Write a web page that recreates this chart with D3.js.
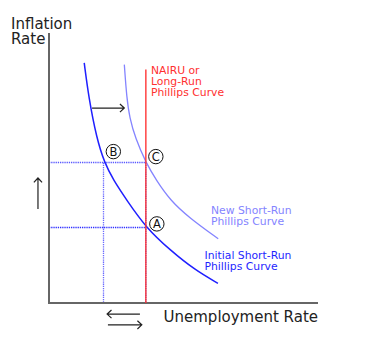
<!DOCTYPE html>
<html><head><meta charset="utf-8">
<script src="https://cdn.jsdelivr.net/npm/d3@7"></script>
<style>html,body{margin:0;padding:0;background:#fff;} svg{display:block;font-family:"DejaVu Sans",sans-serif;}</style>
</head><body>
<svg id="c" width="370" height="352"></svg>
<script>
// Data (abstract units: unemployment 0..10, inflation 0..10)
const initialCurveX = [1.31, 1.48, 1.77, 2.06, 2.39, 2.89, 3.60, 4.50, 5.43, 6.28];
const initialCurveY = [8.89, 7.59, 6.11, 5.20, 4.56, 3.81, 2.80, 1.96, 1.22, 0.73];
const newCurveX = [2.80, 2.89, 3.00, 3.21, 3.60, 3.98, 4.50, 5.22, 6.29];
const newCurveY = [8.83, 7.59, 6.85, 6.11, 5.20, 4.56, 3.81, 3.15, 2.38];
const nairuX = 3.60;
const nairuTop = 8.65;
const pointNames = ["A", "B", "C"];
const pointX = [3.60, 2.02, 3.60];
const pointY = [2.80, 5.20, 5.20];

const svg = d3.select("#c");
const x = d3.scaleLinear().domain([0, 10]).range([49, 318]);
const y = d3.scaleLinear().domain([0, 10]).range([303, 33]);
const snap = v => Math.round(v - 0.5) + 0.5;

const blue = "#1f1fff", lightBlue = "#8484ff", red = "#ff3030", axisCol = "#666";

// dotted guide lines
const P = i => [x(pointX[i]), y(pointY[i])];
const dots = [
  [[x(0), snap(y(pointY[1]))], [x(pointX[2]), snap(y(pointY[2]))], "#5a5aff"],
  [[snap(x(pointX[1])), y(pointY[1])], [snap(x(pointX[1])), y(0)], "#6a6aff"],
  [[x(0), snap(y(pointY[0]))], [x(pointX[0]), snap(y(pointY[0]))], "#3030ff"],
  [[x(pointX[2]), y(pointY[2])], [x(pointX[2]), y(0)], "#5050ff"]
];
dots.forEach(d => svg.append("line")
  .attr("x1", d[0][0]).attr("y1", d[0][1]).attr("x2", d[1][0]).attr("y2", d[1][1])
  .attr("stroke", d[2]).attr("stroke-width", 1.3).attr("stroke-dasharray", "1.3,0.9"));

// axes
svg.append("path").attr("d", `M${x(0)},${y(10)}V${y(0)}H${x(10)}`)
  .attr("fill", "none").attr("stroke", axisCol).attr("stroke-width", 2);

// curves
const line = d3.line().x(d => x(d[0])).y(d => y(d[1])).curve(d3.curveBasis);
svg.append("path").datum(newCurveX.map((v, i) => [v, newCurveY[i]]))
  .attr("d", line).attr("fill", "none").attr("stroke", lightBlue).attr("stroke-width", 1.3);
svg.append("path").datum(initialCurveX.map((v, i) => [v, initialCurveY[i]]))
  .attr("d", line).attr("fill", "none").attr("stroke", blue).attr("stroke-width", 1.5);

// NAIRU
svg.append("line").attr("x1", x(nairuX)).attr("x2", x(nairuX)).attr("y1", y(nairuTop)).attr("y2", y(0))
  .attr("stroke", red).attr("stroke-width", 1.5).attr("opacity", 0.9);

// circled point labels
const labelOff = {A: [11, -3.5], B: [10, -11], C: [10, -6]};
pointNames.forEach((n, i) => {
  const [px, py] = P(i);
  const cx = px + labelOff[n][0], cy = py + labelOff[n][1];
  svg.append("circle").attr("cx", cx).attr("cy", cy).attr("r", 7.2)
    .attr("fill", "#fff").attr("stroke", "#111").attr("stroke-width", 1);
  svg.append("text").attr("x", cx).attr("y", cy + 4).attr("text-anchor", "middle")
    .attr("font-size", 11.5).attr("fill", "#111").text(n);
});

// arrows
function arrow(x1, y1, x2, y2) {
  const a = Math.atan2(y2 - y1, x2 - x1), h = 6;
  const p1 = [x2 - h * Math.cos(a - 0.75), y2 - h * Math.sin(a - 0.75)];
  const p2 = [x2 - h * Math.cos(a + 0.75), y2 - h * Math.sin(a + 0.75)];
  svg.append("path").attr("d", `M${x1},${y1}L${x2},${y2}M${p1}L${x2},${y2}L${p2}`)
    .attr("fill", "none").attr("stroke", "#222").attr("stroke-width", 1.2);
}
arrow(x(1.6), y(7.22), x(2.8), y(7.22));
arrow(x(-0.41), y(3.48), x(-0.41), y(4.63));
arrow(x(3.38), y(-0.41), x(2.16), y(-0.41));
arrow(x(2.19), y(-0.81), x(3.45), y(-0.81));

// texts
function lines(arr, tx, ty, dy, size, col) {
  arr.forEach((t, i) => svg.append("text").attr("x", tx).attr("y", ty + i * dy)
    .attr("font-size", size).attr("fill", col).text(t));
}
lines(["Inflation", "Rate"], 11, 29, 14.5, 15, "#222");
svg.append("text").attr("x", 318).attr("y", 322).attr("text-anchor", "end")
  .attr("font-size", 15).attr("fill", "#222").text("Unemployment Rate");
lines(["NAIRU or", "Long-Run", "Phillips Curve"], 151, 73.5, 11, 10.8, red);
lines(["New Short-Run", "Phillips Curve"], 211, 214.3, 11, 10.8, lightBlue);
lines(["Initial Short-Run", "Phillips Curve"], 204.5, 259.3, 11, 10.8, blue);
</script>
</body></html>
